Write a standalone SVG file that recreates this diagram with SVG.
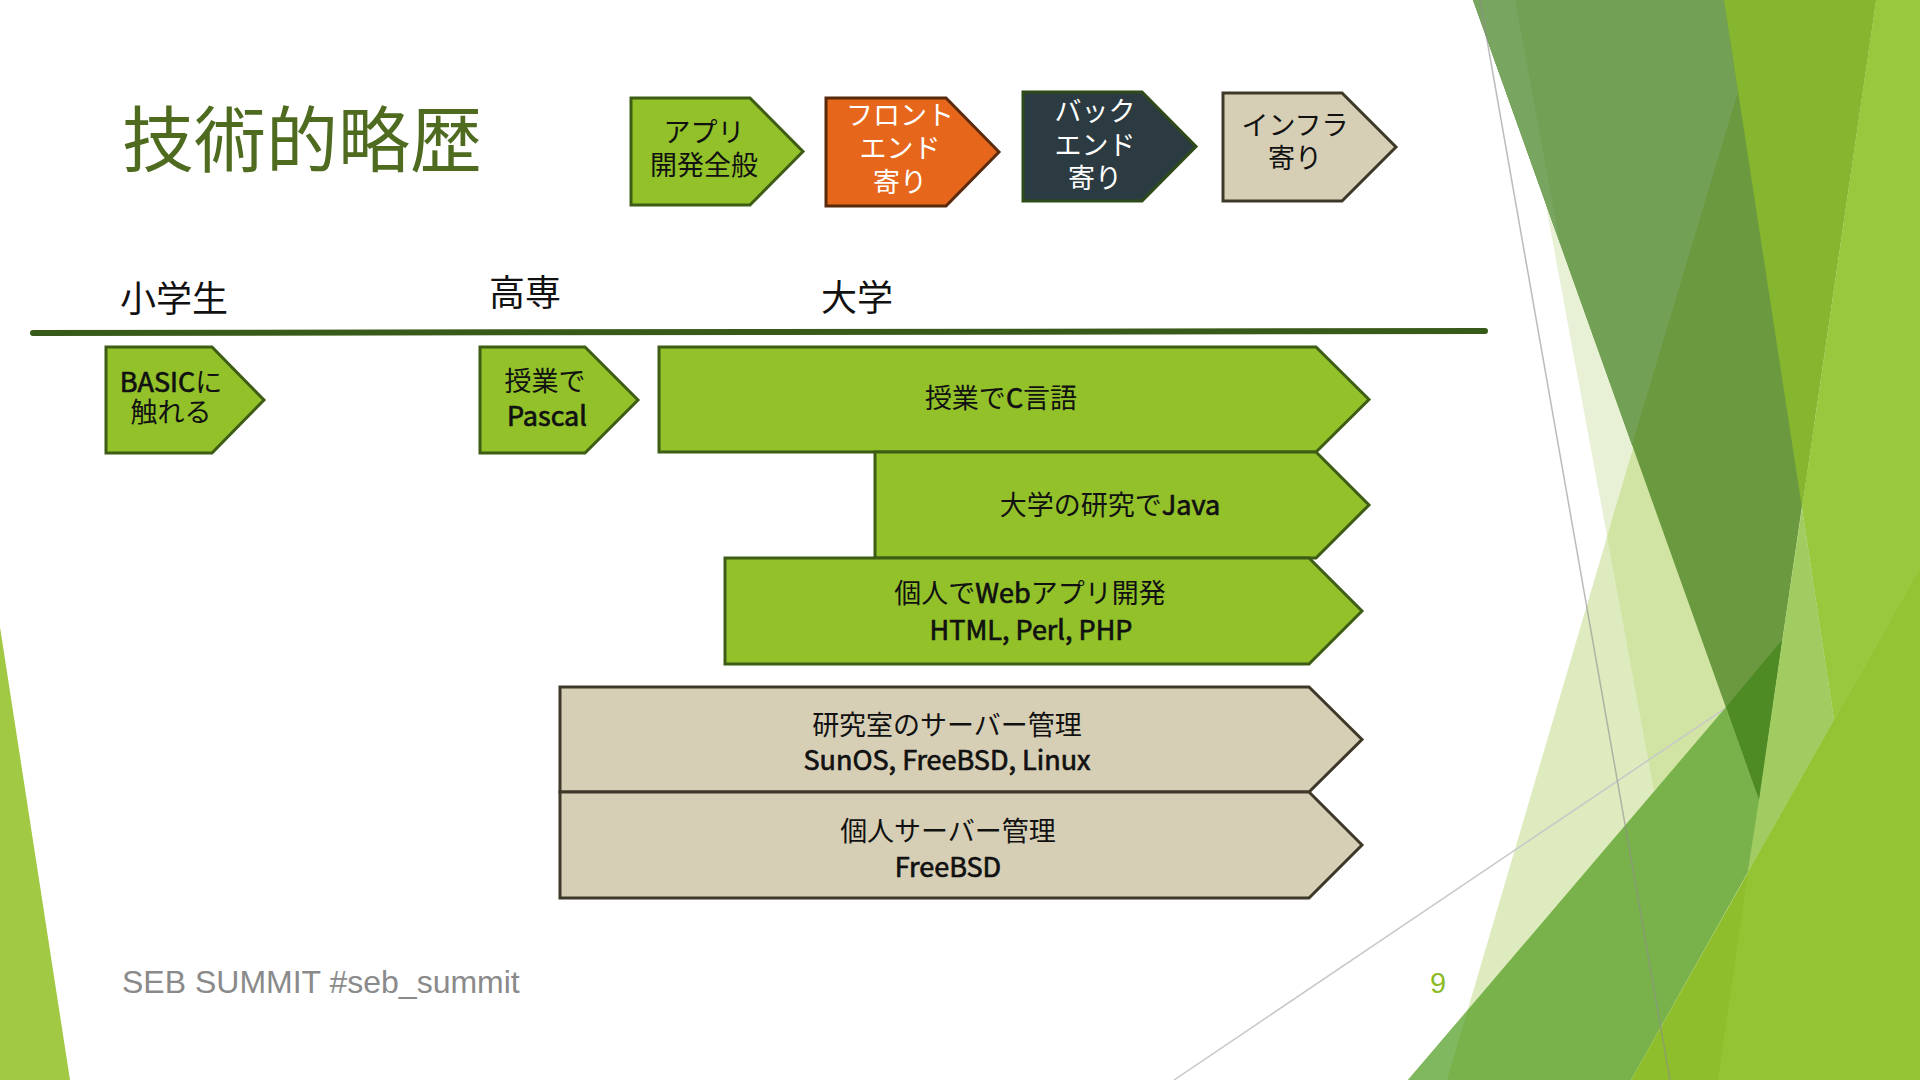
<svg xmlns="http://www.w3.org/2000/svg" width="1920" height="1080" viewBox="0 0 1920 1080">
<style>
.jp{font-family:"Noto Sans CJK JP","Noto Sans",sans-serif;}
.lbl{font-size:27px;text-anchor:middle;fill:#111;}
.wht{fill:#ffffff;}
.lat{stroke:#111;stroke-width:0.7px;}
.g{fill:#92C12A;stroke:#3D5C14;stroke-width:3;stroke-linejoin:miter;}
.o{fill:#E6671B;stroke:#5A2A0C;stroke-width:3;}
.d{fill:#2B3B41;stroke:#2F4A19;stroke-width:3;}
.b{fill:#D6CFB6;stroke:#3E3828;stroke-width:3;}
</style>
<rect x="0" y="0" width="1920" height="1080" fill="#ffffff"/>

<g id="decoration">
  <polygon points="0,627 70,1080 0,1080" fill="#A2C944"/>
  <polygon points="1640,425 1447,1080 1920,1080 1920,425" fill="#DDEBBF"/>
  <polygon points="1545,200 1720,200 1640,425 1607,536" fill="#E8F1D5"/>
  <polygon points="1607,536 1640,425 1740,425 1740,700 1654,791" fill="#D2E4A3"/>
  <line x1="1174" y1="1080" x2="1920" y2="577" stroke="#C8C8C8" stroke-width="1.5"/>
  <polygon points="1473,0 1876,0 1759,800" fill="#6A993F"/>
  <polygon points="1473,0 1724,0 1738,92 1632,445" fill="#72A055"/>
  <polygon points="1473,0 1515,0 1560,243" fill="#78A55F"/>
  <polygon points="1724,0 1876,0 1802,508" fill="#86B530"/>
  <polygon points="1876,0 1920,0 1920,568 1834,720 1802,508" fill="#99C83E"/>
  <polygon points="1802,508 1834,720 1748,872" fill="#A0CC62"/>
  <polygon points="1408,1080 1726,707 1759,800 1748,872 1631,1080" fill="#79B24A"/>
  <polygon points="1408,1080 1468,1010 1447,1080" fill="#80B860"/>
  <polygon points="1726,707 1782,640 1759,800" fill="#4F8B25"/>
  <polygon points="1631,1080 1920,568 1920,1080" fill="#8EBE2C"/>
  <polygon points="1748,872 1920,568 1920,1080 1718,1080" fill="#94C433"/>
  <line x1="1480" y1="0" x2="1670" y2="1080" stroke="#8E8E8E" stroke-opacity="0.6" stroke-width="1.5"/>
</g>

<text id="title" class="jp" x="122" y="166" font-size="72" fill="#4E6B1F">技術的略歴</text>

<g id="legend-app">
  <polygon class="g" points="631,98 750,98 803,151.5 750,205 631,205"/>
  <text class="jp lbl" x="704" y="142">アプリ</text>
  <text class="jp lbl" x="704" y="175">開発全般</text>
</g>
<g id="legend-front">
  <polygon class="o" points="826,98 946,98 999,152 946,206 826,206"/>
  <text class="jp lbl wht" x="900" y="125">フロント</text>
  <text class="jp lbl wht" x="900" y="158">エンド</text>
  <text class="jp lbl wht" x="900" y="192">寄り</text>
</g>
<g id="legend-back">
  <polygon class="d" points="1023,92 1142,92 1196,146.5 1142,201 1023,201"/>
  <text class="jp lbl wht" x="1095" y="121">バック</text>
  <text class="jp lbl wht" x="1095" y="155">エンド</text>
  <text class="jp lbl wht" x="1095" y="188">寄り</text>
</g>
<g id="legend-infra">
  <polygon class="b" points="1223,93 1342,93 1396,147 1342,201 1223,201"/>
  <text class="jp lbl" x="1295" y="135">インフラ</text>
  <text class="jp lbl" x="1295" y="168">寄り</text>
</g>

<g id="timeline">
  <line x1="33" y1="333" x2="1485" y2="331" stroke="#385A18" stroke-width="6" stroke-linecap="round"/>
  <text class="jp" x="174" y="312" font-size="36" text-anchor="middle" fill="#111">小学生</text>
  <text class="jp" x="525" y="306" font-size="36" text-anchor="middle" fill="#111">高専</text>
  <text class="jp" x="857" y="311" font-size="36" text-anchor="middle" fill="#111">大学</text>
</g>

<g id="node-basic">
  <polygon class="g" points="106,347 212,347 264,400 212,453 106,453"/>
  <text class="jp lbl" x="171" y="392"><tspan class="lat">BASIC</tspan>に</text>
  <text class="jp lbl" x="171" y="422">触れる</text>
</g>
<g id="node-pascal">
  <polygon class="g" points="480,347 585,347 638,400 585,453 480,453"/>
  <text class="jp lbl" x="545" y="391">授業で</text>
  <text class="jp lbl lat" x="547" y="426">Pascal</text>
</g>
<g id="node-c">
  <polygon class="g" points="659,347 1316,347 1369,399.5 1316,452 659,452"/>
  <text class="jp lbl" x="1001" y="408">授業で<tspan class="lat">C</tspan>言語</text>
</g>
<g id="node-java">
  <polygon class="g" points="875,452 1316,452 1369,505 1316,558 875,558"/>
  <text class="jp lbl" x="1110" y="515">大学の研究で<tspan class="lat">Java</tspan></text>
</g>
<g id="node-web">
  <polygon class="g" points="725,558 1309,558 1362,611 1309,664 725,664"/>
  <text class="jp lbl" x="1030" y="603">個人で<tspan class="lat">Web</tspan>アプリ開発</text>
  <text class="jp lbl lat" x="1031" y="640">HTML, Perl, PHP</text>
</g>
<g id="node-lab">
  <polygon class="b" points="560,687 1309,687 1362,739.5 1309,792 560,792"/>
  <text class="jp lbl" x="947" y="735">研究室のサーバー管理</text>
  <text class="jp lbl lat" x="947" y="770">SunOS, FreeBSD, Linux</text>
</g>
<g id="node-personal">
  <polygon class="b" points="560,792 1309,792 1362,845 1309,898 560,898"/>
  <text class="jp lbl" x="948" y="841">個人サーバー管理</text>
  <text class="jp lbl lat" x="948" y="877">FreeBSD</text>
</g>

<g id="connectors"></g>

<text id="footer" x="122" y="993" font-family="Liberation Sans, Arial, sans-serif" font-size="32" fill="#8A8A8A">SEB SUMMIT #seb_summit</text>
<text id="page" x="1438" y="993" font-family="Liberation Sans, Arial, sans-serif" font-size="29" text-anchor="middle" fill="#8DBB25">9</text>
</svg>
